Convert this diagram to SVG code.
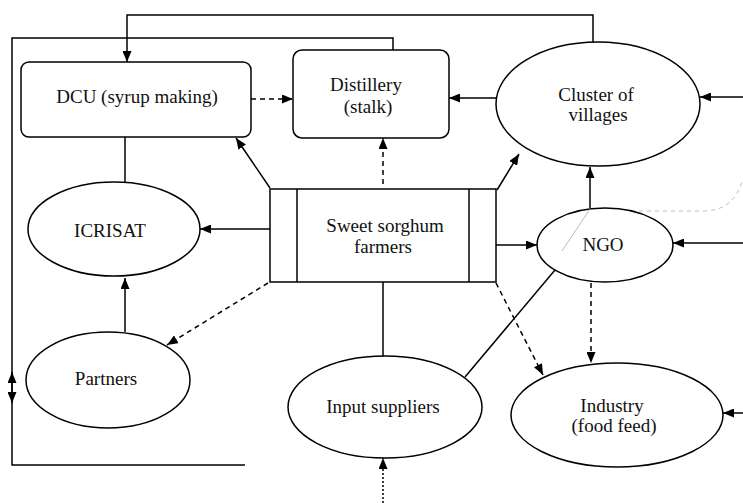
<svg xmlns="http://www.w3.org/2000/svg" width="743" height="503" viewBox="0 0 743 503">
<style>
.n{fill:#fff;stroke:#000;stroke-width:1.5}
.t{font-family:'Liberation Serif','Times New Roman','DejaVu Serif',serif;font-size:19px;fill:#111;text-anchor:middle}
.c{fill:none;stroke:#000;stroke-width:1.5}
.d{fill:none;stroke:#000;stroke-width:1.5;stroke-dasharray:5,4}
.f{fill:none;stroke:#aaa;stroke-width:0.8}
</style>
<defs>
<marker id="a" markerUnits="userSpaceOnUse" markerWidth="11" markerHeight="9" refX="11" refY="4.5" orient="auto">
<path d="M0,0 L11,4.5 L0,9 z" fill="#000"/>
</marker>
</defs>
<rect width="743" height="503" fill="#fff"/>
<g id="connectors">
<path class="c" d="M593,42 V15 H127 V62" marker-end="url(#a)"/>
<path class="c" d="M393,50 V38 H12 V465 H245"/>
<path class="c" d="M12,388 V372" marker-end="url(#a)"/>
<path class="c" d="M12,388 V403" marker-end="url(#a)"/>
<path class="d" d="M251,99 H293" marker-end="url(#a)"/>
<path class="c" d="M496,98 H449" marker-end="url(#a)"/>
<path class="c" d="M743,97 H700" marker-end="url(#a)"/>
<path class="c" d="M125,137 V182"/>
<path class="c" d="M270,188 L236,138" marker-end="url(#a)"/>
<path class="d" d="M383,184 V138" marker-end="url(#a)"/>
<path class="c" d="M497,190 L519,154" marker-end="url(#a)"/>
<path class="c" d="M270,229 H200" marker-end="url(#a)"/>
<path class="d" d="M268,283 L167,345" marker-end="url(#a)"/>
<path class="c" d="M125,332 V278" marker-end="url(#a)"/>
<path class="c" d="M496,245 H537" marker-end="url(#a)"/>
<path class="d" d="M496,283 L543,375" marker-end="url(#a)"/>
<path class="c" d="M383,282 V356"/>
<path class="c" d="M590,208 V167" marker-end="url(#a)"/>
<path class="c" d="M743,243 H673" marker-end="url(#a)"/>
<path class="c" d="M555,270 L465,377"/>
<path class="d" d="M591,283 V363" marker-end="url(#a)"/>
<path class="c" d="M743,413 H723" marker-end="url(#a)"/>
<path class="c" d="M383,503 V458" marker-end="url(#a)" stroke-dasharray="2,2"/>
<path class="f" d="M623,211 H705 Q735,210 743,178" stroke-dasharray="4,4"/>
</g>
<g id="dcu">
<rect class="n" x="21" y="62" width="230" height="75" rx="8"/>
<text class="t" x="137" y="103">DCU (syrup making)</text>
</g>
<g id="distillery">
<rect class="n" x="293" y="50" width="156" height="88" rx="9"/>
<text class="t" x="366" y="91">Distillery</text>
<text class="t" x="368" y="113">(stalk)</text>
</g>
<g id="cluster">
<ellipse class="n" cx="598" cy="104" rx="102" ry="62"/>
<text class="t" x="596" y="101">Cluster of</text>
<text class="t" x="598" y="121">villages</text>
</g>
<g id="farmers">
<rect class="n" x="270" y="189" width="226" height="93"/>
<path class="c" d="M297,189 V282 M469,189 V282"/>
<text class="t" x="385" y="232">Sweet sorghum</text>
<text class="t" x="383" y="253">farmers</text>
</g>
<g id="icrisat">
<ellipse class="n" cx="114" cy="229" rx="86" ry="47"/>
<text class="t" x="110" y="237">ICRISAT</text>
</g>
<g id="partners">
<ellipse class="n" cx="108" cy="380" rx="82" ry="48"/>
<text class="t" x="106" y="385">Partners</text>
</g>
<g id="ngo">
<ellipse class="n" cx="605" cy="245" rx="68" ry="37"/>
<path class="f" d="M590,209 L562,251"/>
<text class="t" x="603" y="251">NGO</text>
</g>
<g id="input">
<ellipse class="n" cx="385" cy="407" rx="97" ry="51"/>
<text class="t" x="383" y="413">Input suppliers</text>
</g>
<g id="industry">
<ellipse class="n" cx="617" cy="415" rx="106" ry="52"/>
<text class="t" x="612" y="412">Industry</text>
<text class="t" x="614" y="432">(food feed)</text>
</g>
</svg>
